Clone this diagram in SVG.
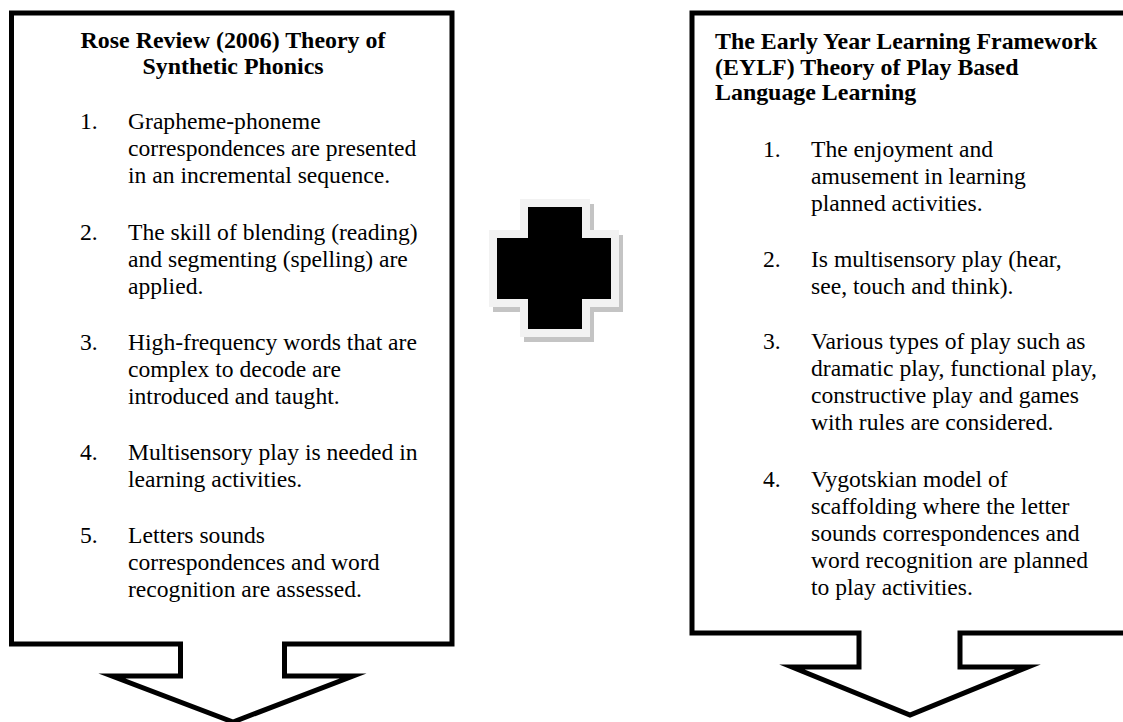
<svg xmlns="http://www.w3.org/2000/svg" width="1123" height="722" viewBox="0 0 1123 722">
<style>
.box{fill:#fff;stroke:#000;stroke-width:5;stroke-linejoin:miter;stroke-miterlimit:10}
.t{font-family:"Liberation Serif","Times New Roman",serif;font-size:23.6px;fill:#000}
.h{font-family:"Liberation Serif","Times New Roman",serif;font-size:23.9px;font-weight:bold;fill:#000}
.mid{text-anchor:middle}
</style>
<rect width="1123" height="722" fill="#fff"/>
<g id="rose-review">
<path class="box" d="M11.5,13 H452 V644 H284.5 V676 H353 L233,722 L112,676 H180.5 V644 H11.5 Z"/>
<text class="h mid" x="233" y="48">Rose Review (2006) Theory of</text>
<text class="h mid" x="233" y="74">Synthetic Phonics</text>
<text class="t" x="80" y="129">1.</text>
<text class="t" x="128" y="129">Grapheme-phoneme</text>
<text class="t" x="128" y="156">correspondences are presented</text>
<text class="t" x="128" y="183">in an incremental sequence.</text>
<text class="t" x="80" y="240">2.</text>
<text class="t" x="128" y="240">The skill of blending (reading)</text>
<text class="t" x="128" y="267">and segmenting (spelling) are</text>
<text class="t" x="128" y="294">applied.</text>
<text class="t" x="80" y="350">3.</text>
<text class="t" x="128" y="350">High-frequency words that are</text>
<text class="t" x="128" y="377">complex to decode are</text>
<text class="t" x="128" y="404">introduced and taught.</text>
<text class="t" x="80" y="460">4.</text>
<text class="t" x="128" y="460">Multisensory play is needed in</text>
<text class="t" x="128" y="487">learning activities.</text>
<text class="t" x="80" y="543">5.</text>
<text class="t" x="128" y="543">Letters sounds</text>
<text class="t" x="128" y="570">correspondences and word</text>
<text class="t" x="128" y="597">recognition are assessed.</text>
</g>
<g id="plus">
<path transform="translate(4,5)" d="M524,203 H586 V234 H615 V303 H586 V333 H524 V303 H493 V234 H524 Z" fill="#c4c4c4" stroke="#c4c4c4" stroke-width="8"/>
<path d="M524,203 H586 V234 H615 V303 H586 V333 H524 V303 H493 V234 H524 Z" fill="#000" stroke="#f2f2f2" stroke-width="8"/>
</g>
<g id="eylf">
<path class="box" d="M692,13 H1128 V633 H960 V667 H1028 L910,715 L792,667 H859 V633 H692 Z"/>
<text class="h" x="715" y="49">The Early Year Learning Framework</text>
<text class="h" x="715" y="75">(EYLF) Theory of Play Based</text>
<text class="h" x="715" y="100">Language Learning</text>
<text class="t" x="763" y="157">1.</text>
<text class="t" x="811" y="157">The enjoyment and</text>
<text class="t" x="811" y="184">amusement in learning</text>
<text class="t" x="811" y="211">planned activities.</text>
<text class="t" x="763" y="267">2.</text>
<text class="t" x="811" y="267">Is multisensory play (hear,</text>
<text class="t" x="811" y="294">see, touch and think).</text>
<text class="t" x="763" y="349">3.</text>
<text class="t" x="811" y="349">Various types of play such as</text>
<text class="t" x="811" y="376">dramatic play, functional play,</text>
<text class="t" x="811" y="403">constructive play and games</text>
<text class="t" x="811" y="430">with rules are considered.</text>
<text class="t" x="763" y="487">4.</text>
<text class="t" x="811" y="487">Vygotskian model of</text>
<text class="t" x="811" y="514">scaffolding where the letter</text>
<text class="t" x="811" y="541">sounds correspondences and</text>
<text class="t" x="811" y="568">word recognition are planned</text>
<text class="t" x="811" y="595">to play activities.</text>
</g>
</svg>
